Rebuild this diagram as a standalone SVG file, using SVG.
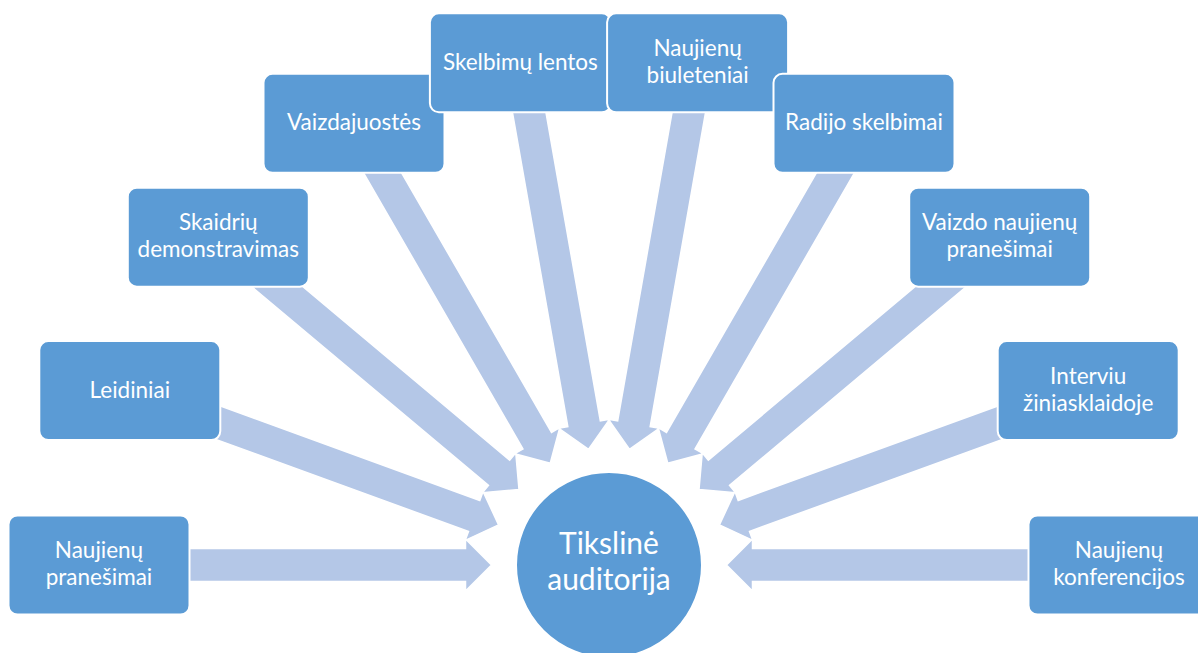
<svg xmlns="http://www.w3.org/2000/svg" width="1198" height="653" viewBox="0 0 1198 653">
  <style>
    .box { fill: #5b9bd5; stroke: #ffffff; stroke-width: 2; }
    .arr { fill: #b4c7e7; stroke: #ffffff; stroke-width: 1.5; stroke-linejoin: miter; }
    .t { font-family: Lato, "Liberation Sans", sans-serif; font-size: 22.5px; fill: #ffffff; text-anchor: middle; }
    .ct { font-family: Lato, "Liberation Sans", sans-serif; font-size: 30px; fill: #ffffff; text-anchor: middle; }
  </style>
  <defs>
    <polygon id="arrow" points="-480,-16.5 -143.5,-16.5 -143.5,-26 -117.5,0 -143.5,26 -143.5,16.5 -480,16.5"/>
  </defs>
  <rect width="1198" height="653" fill="#ffffff"/>
  <g id="connectors">
    <use href="#arrow" class="arr" transform="translate(609,565) rotate(0)"/>
    <use href="#arrow" class="arr" transform="translate(609,565) rotate(20)"/>
    <use href="#arrow" class="arr" transform="translate(609,565) rotate(40)"/>
    <use href="#arrow" class="arr" transform="translate(609,565) rotate(60)"/>
    <use href="#arrow" class="arr" transform="translate(609,565) rotate(80)"/>
    <use href="#arrow" class="arr" transform="translate(609,565) rotate(100)"/>
    <use href="#arrow" class="arr" transform="translate(609,565) rotate(120)"/>
    <use href="#arrow" class="arr" transform="translate(609,565) rotate(140)"/>
    <use href="#arrow" class="arr" transform="translate(609,565) rotate(160)"/>
    <use href="#arrow" class="arr" transform="translate(609,565) rotate(180)"/>
  </g>
  <g id="center">
    <circle cx="609" cy="565" r="93" class="box"/>
    <text class="ct" x="609" y="554">Tikslinė</text>
    <text class="ct" x="609" y="590">auditorija</text>
  </g>
  <g id="n1">
    <rect x="8.5" y="515.5" width="181" height="99" rx="9" class="box"/>
    <text class="t" x="99" y="558">Naujienų</text>
    <text class="t" x="99" y="585">pranešimai</text>
  </g>
  <g id="n2">
    <rect x="39.3" y="341.1" width="181" height="99" rx="9" class="box"/>
    <text class="t" x="129.8" y="397.6">Leidiniai</text>
  </g>
  <g id="n3">
    <rect x="127.8" y="187.7" width="181" height="99" rx="9" class="box"/>
    <text class="t" x="218.3" y="230.2">Skaidrių</text>
    <text class="t" x="218.3" y="257.2">demonstravimas</text>
  </g>
  <g id="n4">
    <rect x="263.5" y="73.8" width="181" height="99" rx="9" class="box"/>
    <text class="t" x="354" y="130.3">Vaizdajuostės</text>
  </g>
  <g id="n5">
    <rect x="429.9" y="13.3" width="181" height="99" rx="9" class="box"/>
    <text class="t" x="520.4" y="69.8">Skelbimų lentos</text>
  </g>
  <g id="n6">
    <rect x="607.1" y="13.3" width="181" height="99" rx="9" class="box"/>
    <text class="t" x="697.6" y="55.8">Naujienų</text>
    <text class="t" x="697.6" y="82.8">biuleteniai</text>
  </g>
  <g id="n7">
    <rect x="773.5" y="73.8" width="181" height="99" rx="9" class="box"/>
    <text class="t" x="864" y="130.3">Radijo skelbimai</text>
  </g>
  <g id="n8">
    <rect x="909.2" y="187.7" width="181" height="99" rx="9" class="box"/>
    <text class="t" x="999.7" y="230.2">Vaizdo naujienų</text>
    <text class="t" x="999.7" y="257.2">pranešimai</text>
  </g>
  <g id="n9">
    <rect x="997.7" y="341.1" width="181" height="99" rx="9" class="box"/>
    <text class="t" x="1088.2" y="383.6">Interviu</text>
    <text class="t" x="1088.2" y="410.6">žiniasklaidoje</text>
  </g>
  <g id="n10">
    <rect x="1028.5" y="515.5" width="181" height="99" rx="9" class="box"/>
    <text class="t" x="1119" y="558">Naujienų</text>
    <text class="t" x="1119" y="585">konferencijos</text>
  </g>
</svg>
